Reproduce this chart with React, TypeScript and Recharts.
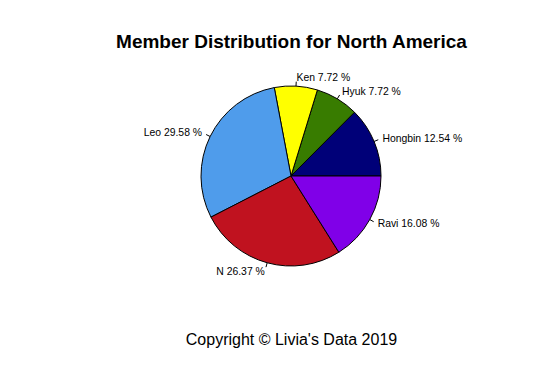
import { PieChart, Pie, Cell } from "recharts";

const members = ["Hongbin", "Hyuk", "Ken", "Leo", "N", "Ravi"];
const shares = [12.54, 7.72, 7.72, 29.58, 26.37, 16.08];
const colors = ["#000078", "#387C00", "#FFFF00", "#4F9CEB", "#C0121F", "#8000E8"];

const data = members.map((name, i) => ({ name, value: shares[i] }));

const RADIAN = Math.PI / 180;

// R-style label: short tick from the rim, then text just outside it
// eslint-disable-next-line @typescript-eslint/no-explicit-any
const renderLabel = (props: any) => {
  const { cx, cy, midAngle, outerRadius, name, value } = props;
  const cos = Math.cos(-midAngle * RADIAN);
  const sin = Math.sin(-midAngle * RADIAN);
  const x1 = cx + outerRadius * cos;
  const y1 = cy + outerRadius * sin;
  const x2 = cx + outerRadius * 1.05 * cos;
  const y2 = cy + outerRadius * 1.05 * sin;
  const tx = cx + outerRadius * 1.1 * cos;
  const ty = cy + outerRadius * 1.1 * sin;
  return (
    <g>
      <line x1={x1} y1={y1} x2={x2} y2={y2} stroke="#000" strokeWidth={1} />
      <text
        x={tx}
        y={ty}
        textAnchor={cos >= 0 ? "start" : "end"}
        dominantBaseline="central"
        fontSize={10.4}
        fontFamily="'Liberation Sans', Arial, sans-serif"
        fill="#000"
      >
        {`${name} ${value.toFixed(2)} %`}
      </text>
    </g>
  );
};

export default function App() {
  return (
    <div
      style={{
        position: "absolute",
        left: 0,
        top: 0,
        width: 545,
        height: 371,
        background: "#fff",
        fontFamily: "'Liberation Sans', Arial, sans-serif",
      }}
    >
      <div
        style={{
          position: "absolute",
          left: 0,
          width: 583,
          top: 30,
          textAlign: "center",
          fontWeight: "bold",
          fontSize: 19,
          lineHeight: "24px",
          color: "#000",
        }}
      >
        Member Distribution for North America
      </div>
      <PieChart width={545} height={371} margin={{ top: 0, right: 0, bottom: 0, left: 0 }}>
        <Pie
          data={data}
          dataKey="value"
          nameKey="name"
          cx={291}
          cy={176}
          outerRadius={90}
          startAngle={0}
          endAngle={360}
          stroke="#000"
          strokeWidth={1}
          labelLine={false}
          label={renderLabel}
          isAnimationActive={false}
        >
          {data.map((entry, index) => (
            <Cell key={`cell-${index}`} fill={colors[index]} />
          ))}
        </Pie>
      </PieChart>
      <div
        style={{
          position: "absolute",
          left: 0,
          width: 583,
          top: 330,
          textAlign: "center",
          fontSize: 16,
          lineHeight: "20px",
          color: "#000",
        }}
      >
        Copyright © Livia's Data 2019
      </div>
    </div>
  );
}
